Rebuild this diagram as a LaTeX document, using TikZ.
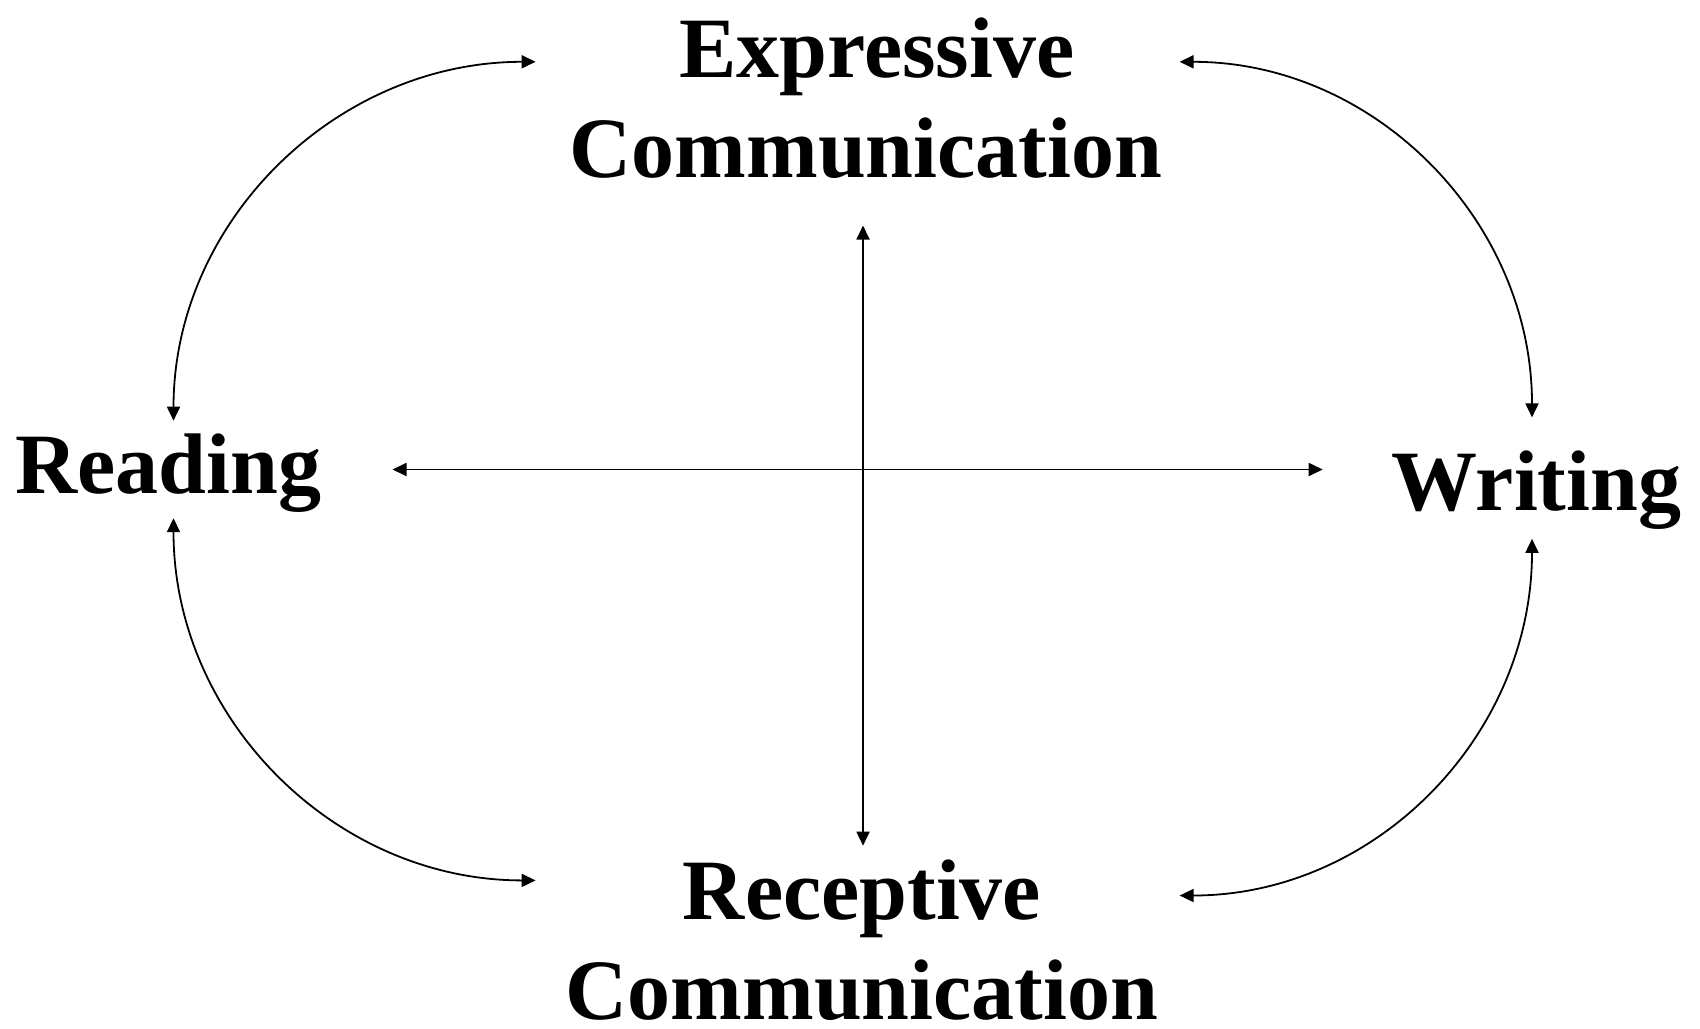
\documentclass[tikz,border=0pt]{standalone}
\usepackage{fontspec}
\setmainfont{Liberation Serif}
\usetikzlibrary{arrows.meta}
\tikzset{
  lbl/.style={font=\fontsize{43}{50}\selectfont\bfseries, inner sep=0pt, align=center},
  conn/.style={line width=0.9pt, {Triangle[length=7pt,width=6.5pt]}-{Triangle[length=7pt,width=6.5pt]}}
}
\begin{document}
\begin{tikzpicture}[x=0.5pt,y=-0.5pt]
\useasboundingbox (0,0) rectangle (1700,1028);
\node[lbl, anchor=base] (E) at (866,177) {\hspace*{11pt}Expressive\\Communication};
\node[lbl, anchor=base] (R) at (862,1019) {Receptive\\Communication};
\node[lbl, anchor=base west] (Rd) at (15,493) {Reading};
\node[lbl, anchor=base west] (Wr) at (1391,510) {Writing};
% connector end points
\coordinate (eL) at (535.6,61.8);
\coordinate (eR) at (1179.6,61.8);
\coordinate (eB) at (863,225.5);
\coordinate (rL) at (535.6,880.4);
\coordinate (rR) at (1179.6,895.5);
\coordinate (rT) at (863,845.7);
\coordinate (rdT) at (173.5,420.7);
\coordinate (rdB) at (173.5,518.2);
\coordinate (rdR) at (392.5,469.5);
\coordinate (wrT) at (1532,417.4);
\coordinate (wrB) at (1532,538.8);
\coordinate (wrL) at (1322.7,469.5);
\draw[conn] (rdT) to[out=90,in=180] (eL);
\draw[conn] (eR) to[out=0,in=90] (wrT);
\draw[conn] (rdB) to[out=-90,in=180] (rL);
\draw[conn] (wrB) to[out=-90,in=0] (rR);
\draw[conn] (eB) -- (rT);
\draw[conn] (rdR) -- (wrL);
\end{tikzpicture}
\end{document}
